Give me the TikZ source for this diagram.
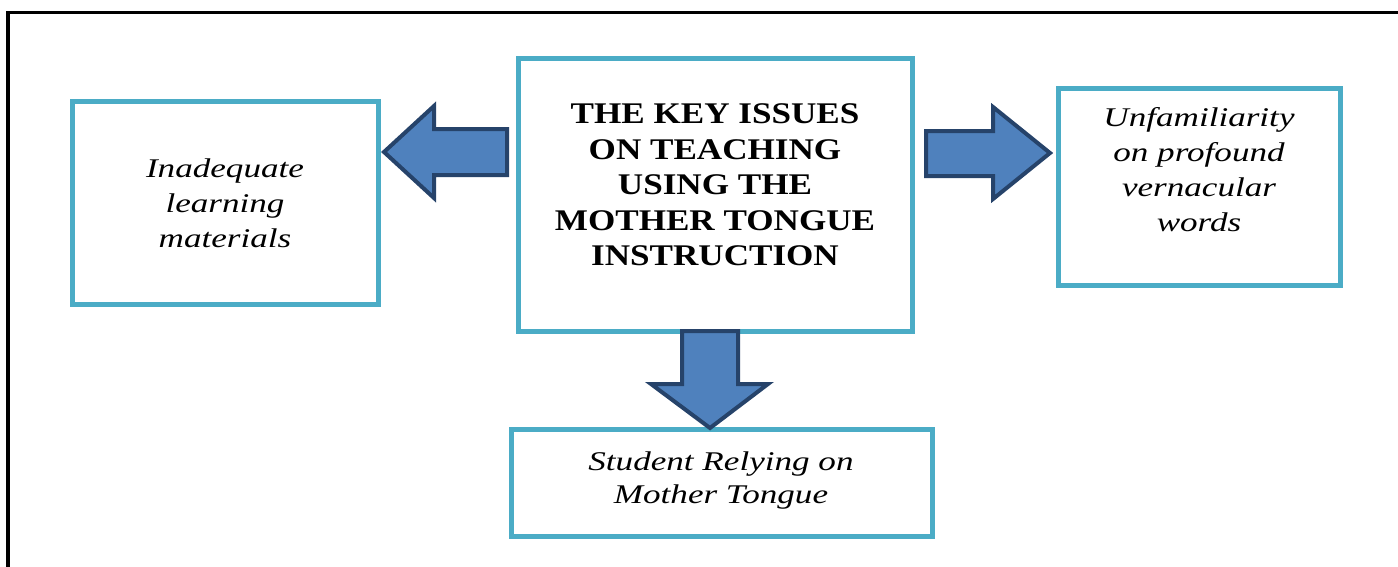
\documentclass[tikz,border=0pt]{standalone}
\usepackage{fontspec}
\setmainfont{Liberation Serif}
\newfontfamily\headfont[FakeStretch=1.17]{Liberation Serif}
\newfontfamily\notefont[FakeStretch=1.3]{Liberation Serif}
\definecolor{boxline}{HTML}{4BACC6}
\definecolor{arrowfill}{HTML}{4F81BD}
\definecolor{arrowline}{HTML}{26436A}
\begin{document}
\begin{tikzpicture}[x=0.75pt,y=-0.75pt,
  issuebox/.style={draw=boxline, line width=3.75pt, rectangle, inner sep=0pt},
  headtext/.style={align=center, font=\headfont\bfseries\fontsize{22.5}{26.6}\selectfont},
  notetext/.style={align=center, font=\notefont\itshape\fontsize{20.25}{26.25}\selectfont},
  blockarrow/.style={fill=arrowfill, draw=arrowline, line width=3pt, line join=miter}]
\useasboundingbox (0,0) rectangle (1398,567);
% page frame (open at right and bottom)
\draw[line width=2.4pt] (8,567) -- (8,12.5) -- (1398,12.5);

% boxes
\node[issuebox, minimum width=295.5pt, minimum height=204.75pt] (centre) at (715.5,195) {};
\node[issuebox, minimum width=229.5pt, minimum height=152.25pt] (left) at (225,202.5) {};
\node[issuebox, minimum width=211.5pt, minimum height=147.75pt] (right) at (1199.5,186.5) {};
\node[issuebox, minimum width=315.75pt, minimum height=80.25pt] (bottom) at (722,483) {};

% texts
\node[headtext] (centretext) at (715,185) {THE KEY ISSUES\\ON TEACHING\\USING THE\\MOTHER TONGUE\\INSTRUCTION};
\node[notetext] (lefttext) at (225,203) {Inadequate\\learning\\materials};
\node[notetext] (righttext) at (1199,170) {Unfamiliarity\\on profound\\vernacular\\words};
\node[notetext, font=\notefont\itshape\fontsize{20.25}{24.75}\selectfont] (bottomtext) at (721,481) {Student Relying on\\Mother Tongue};

% block arrows from the centre box
\draw[blockarrow] (507,129) -- (434,129) -- (434,106) -- (384,152) -- (434,198) -- (434,175) -- (507,175) -- cycle;
\draw[blockarrow] (926,131) -- (993,131) -- (993,107) -- (1050,153) -- (993,199) -- (993,176) -- (926,176) -- cycle;
\draw[blockarrow] (682,331) -- (738,331) -- (738,384) -- (768,384) -- (710,428) -- (651,384) -- (682,384) -- cycle;
\end{tikzpicture}
\end{document}
